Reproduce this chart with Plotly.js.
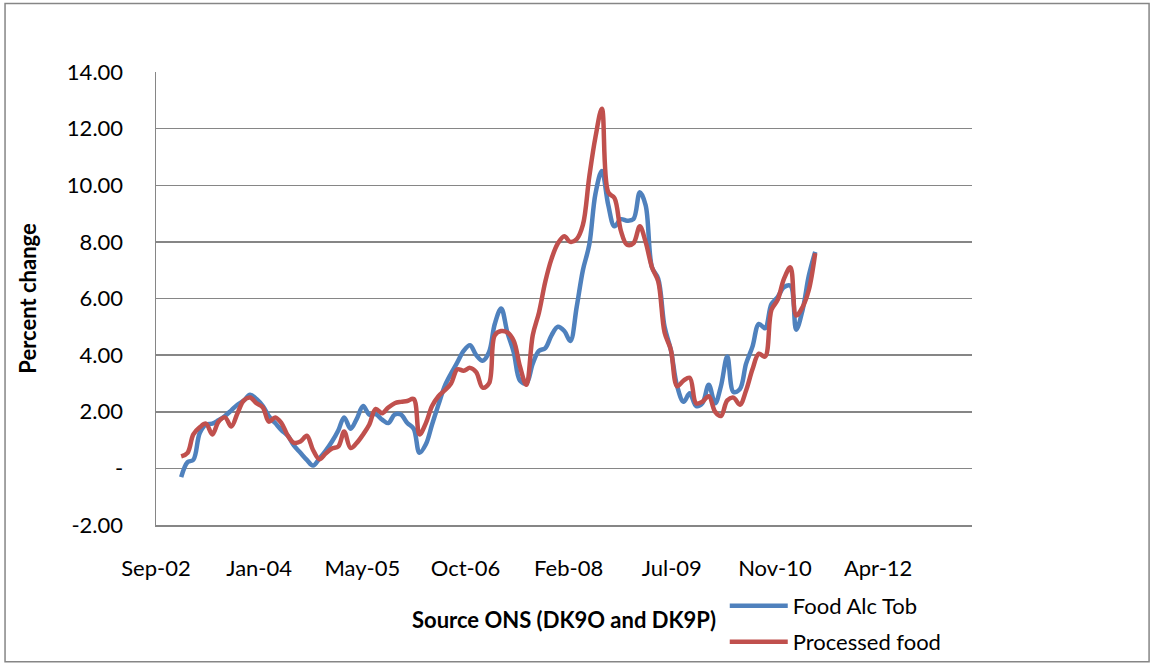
<!DOCTYPE html>
<html>
<head>
<meta charset="utf-8">
<script src="https://cdn.plot.ly/plotly-3.0.1.min.js"></script>
<style>
  html, body { margin: 0; padding: 0; background: #ffffff; }
  #chart { width: 1154px; height: 666px; }
</style>
</head>
<body>
<div id="chart"></div>
<script>
// Monthly observations, Jan 2003 - Jun 2011
const months = [
  "2003-01","2003-02","2003-03","2003-04","2003-05","2003-06","2003-07","2003-08","2003-09","2003-10","2003-11","2003-12",
  "2004-01","2004-02","2004-03","2004-04","2004-05","2004-06","2004-07","2004-08","2004-09","2004-10","2004-11","2004-12",
  "2005-01","2005-02","2005-03","2005-04","2005-05","2005-06","2005-07","2005-08","2005-09","2005-10","2005-11","2005-12",
  "2006-01","2006-02","2006-03","2006-04","2006-05","2006-06","2006-07","2006-08","2006-09","2006-10","2006-11","2006-12",
  "2007-01","2007-02","2007-03","2007-04","2007-05","2007-06","2007-07","2007-08","2007-09","2007-10","2007-11","2007-12",
  "2008-01","2008-02","2008-03","2008-04","2008-05","2008-06","2008-07","2008-08","2008-09","2008-10","2008-11","2008-12",
  "2009-01","2009-02","2009-03","2009-04","2009-05","2009-06","2009-07","2009-08","2009-09","2009-10","2009-11","2009-12",
  "2010-01","2010-02","2010-03","2010-04","2010-05","2010-06","2010-07","2010-08","2010-09","2010-10","2010-11","2010-12",
  "2011-01","2011-02","2011-03","2011-04","2011-05","2011-06"
];

// Food Alc Tob (DK9O), percent change
const foodAlcTob = [
  -0.31, 0.22, 0.30, 1.25, 1.55, 1.58, 1.70, 1.85, 2.05, 2.25, 2.40, 2.60,
  2.45, 2.20, 1.85, 1.60, 1.35, 1.15, 0.80, 0.55, 0.30, 0.10, 0.35, 0.62,
  0.95, 1.35, 1.80, 1.40, 1.75, 2.20, 1.90, 1.92, 1.72, 1.60, 1.90, 1.90,
  1.60, 1.40, 0.55, 0.85, 1.55, 2.25, 2.90, 3.35, 3.75, 4.15, 4.35, 4.00,
  3.80, 4.10, 5.10, 5.65, 4.80, 4.10, 3.10, 3.00, 3.70, 4.15, 4.25, 4.70,
  5.00, 4.85, 4.50, 5.70, 7.00, 7.90, 9.70, 10.50, 9.30, 8.55, 8.80, 8.75,
  8.80, 9.75, 9.30, 7.10, 6.70, 5.00, 4.20, 2.90, 2.35, 2.65, 2.20, 2.30,
  2.95, 2.30, 2.90, 3.95, 2.70, 2.80, 3.70, 4.30, 5.10, 4.95, 5.80, 6.05,
  6.40, 6.45, 4.90, 5.60, 6.80, 7.65
];

// Processed food (DK9P), percent change
const processedFood = [
  0.42, 0.55, 1.20, 1.45, 1.58, 1.20, 1.65, 1.80, 1.48, 1.95, 2.40, 2.50,
  2.30, 2.15, 1.65, 1.80, 1.60, 1.15, 0.90, 0.95, 1.15, 0.65, 0.32, 0.52,
  0.70, 0.78, 1.30, 0.72, 0.90, 1.20, 1.55, 2.10, 1.95, 2.15, 2.30, 2.35,
  2.38, 2.45, 1.20, 1.60, 2.20, 2.55, 2.75, 3.00, 3.50, 3.45, 3.55, 3.40,
  2.85, 3.00, 4.70, 4.85, 4.80, 4.50, 3.60, 2.95, 4.70, 5.50, 6.60, 7.40,
  7.95, 8.20, 8.00, 8.10, 8.60, 10.30, 11.70, 12.70, 9.75, 9.55, 8.40, 7.90,
  7.95, 8.55, 8.00, 7.10, 6.60, 4.80, 4.20, 2.90, 3.10, 3.20, 2.30, 2.35,
  2.55, 2.00, 1.85, 2.40, 2.50, 2.25, 2.75, 3.50, 4.05, 3.95, 5.60, 5.95,
  6.70, 7.10, 5.40, 5.70, 6.30, 7.60
];

const seriesNames = ["Food Alc Tob", "Processed food"];
const yTickVals = [-2, 0, 2, 4, 6, 8, 10, 12, 14];
const yTickText = ["-2.00", "-", "2.00", "4.00", "6.00", "8.00", "10.00", "12.00", "14.00"];
const xAxisStart = "2002-09-01";
const xAxisEnd = "2013-06-30";
const xTickStepDays = 500;
const xTitleText = "Source ONS (DK9O and DK9P)";
const yTitleText = "Percent change";

const FONT = "Lato, 'Open Sans', 'DejaVu Sans', sans-serif";
const lineOpts = { shape: "spline", smoothing: 1, width: 4.5 };

const traces = [
  {
    x: months.map(m => m + "-01"), y: foodAlcTob, name: seriesNames[0],
    type: "scatter", mode: "lines", legend: "legend",
    line: Object.assign({ color: "#4F81BD" }, lineOpts)
  },
  {
    x: months.map(m => m + "-01"), y: processedFood, name: seriesNames[1],
    type: "scatter", mode: "lines", legend: "legend2",
    line: Object.assign({ color: "#C0504D" }, lineOpts)
  }
];

const legendStyle = {
  xref: "paper", yref: "container",
  xanchor: "left", yanchor: "top",
  itemwidth: 58,
  font: { family: FONT, size: 22, color: "#000000" },
  bgcolor: "rgba(0,0,0,0)"
};

const layout = {
  width: 1154, height: 666,
  margin: { l: 156, r: 182, t: 72, b: 141, pad: 0 },
  paper_bgcolor: "#ffffff", plot_bgcolor: "#ffffff",
  font: { family: FONT, size: 22, color: "#000000" },
  showlegend: true,
  legend: Object.assign({ x: 0.697, y: 0.1216 }, legendStyle),
  legend2: Object.assign({ x: 0.697, y: 0.0676 }, legendStyle),
  xaxis: {
    type: "date",
    range: [xAxisStart, xAxisEnd],
    tick0: xAxisStart,
    dtick: xTickStepDays * 86400000,
    tickformat: "%b-%y",
    tickangle: 0,
    showgrid: false, zeroline: false,
    showline: true, linecolor: "#868686", linewidth: 1.5,
    ticks: "", ticklabelstandoff: 23,
    automargin: false
  },
  yaxis: {
    range: [-2, 14],
    tickvals: yTickVals, ticktext: yTickText,
    showgrid: true, gridcolor: "#868686", gridwidth: 1.5,
    zeroline: false,
    showline: true, linecolor: "#868686", linewidth: 1.5,
    ticks: "", ticklabelstandoff: 27,
    automargin: false,
    title: { text: "<b>" + yTitleText + "</b>", standoff: 24,
             font: { family: FONT, size: 22, color: "#000000" } }
  },
  annotations: [
    {
      text: "<b>" + xTitleText + "</b>",
      xref: "paper", yref: "paper", x: 0.5, y: -0.2086,
      xanchor: "center", yanchor: "middle", showarrow: false,
      font: { family: FONT, size: 22, color: "#000000" }
    }
  ],
  shapes: [
    {
      type: "rect", xref: "paper", yref: "paper",
      x0: -0.185, x1: 1.217, y0: -0.302, y1: 1.151,
      line: { color: "#868686", width: 1.5 }, fillcolor: "rgba(0,0,0,0)", layer: "below"
    }
  ]
};

Plotly.newPlot("chart", traces, layout, { staticPlot: true, displayModeBar: false });
</script>
</body>
</html>
